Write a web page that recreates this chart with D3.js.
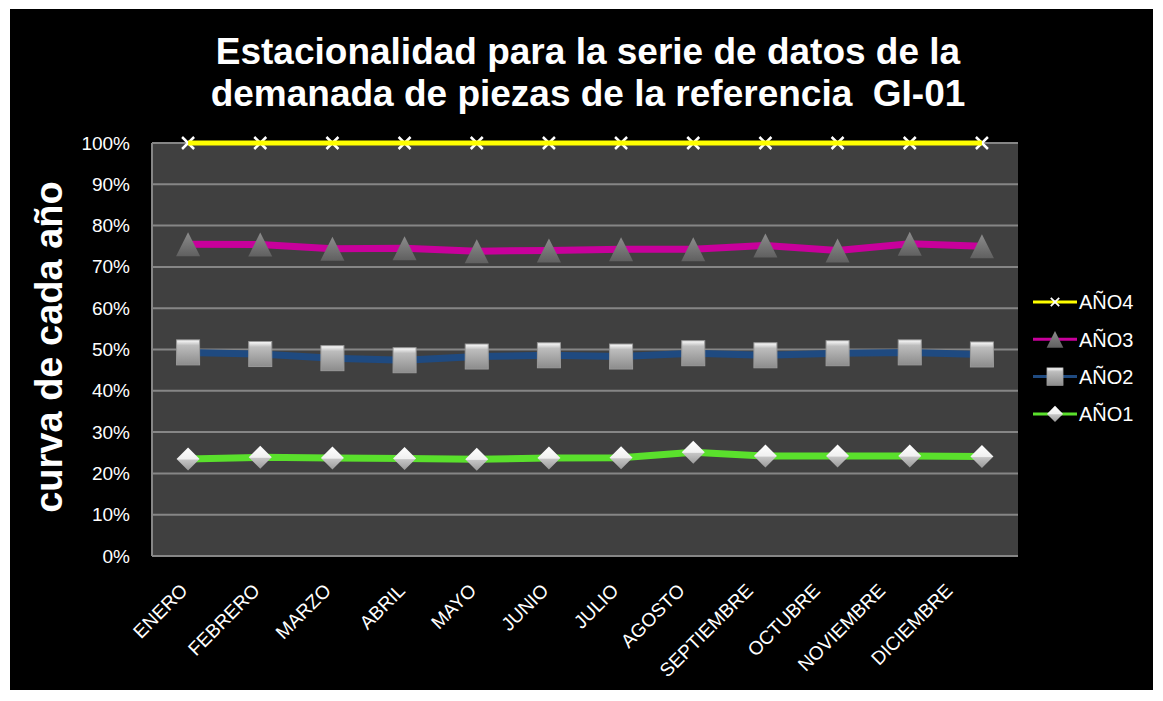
<!DOCTYPE html>
<html>
<head>
<meta charset="utf-8">
<script src="https://cdn.jsdelivr.net/npm/d3@7"></script>
<style>
  body { margin: 0; background: #ffffff; }
  svg text { font-family: "Liberation Sans", Arial, sans-serif; fill: #ffffff; }
</style>
</head>
<body>
<div id="chart"></div>
<script>
// data
const meses = ['ENERO', 'FEBRERO', 'MARZO', 'ABRIL', 'MAYO', 'JUNIO', 'JULIO',
  'AGOSTO', 'SEPTIEMBRE', 'OCTUBRE', 'NOVIEMBRE', 'DICIEMBRE'];
const ano1 = [0.235, 0.239, 0.237, 0.236, 0.234, 0.237, 0.238, 0.251, 0.242, 0.242, 0.242, 0.241];
const ano2 = [0.493, 0.489, 0.479, 0.474, 0.483, 0.486, 0.483, 0.491, 0.486, 0.491, 0.493, 0.488];
const ano3 = [0.755, 0.754, 0.744, 0.745, 0.738, 0.740, 0.743, 0.743, 0.752, 0.740, 0.756, 0.750];
const ano4 = [1, 1, 1, 1, 1, 1, 1, 1, 1, 1, 1, 1];
const yTicks = [0, 0.1, 0.2, 0.3, 0.4, 0.5, 0.6, 0.7, 0.8, 0.9, 1];

const series = [
  { name: 'AÑO4', values: ano4, color: '#ffff00', width: 5, marker: 'x' },
  { name: 'AÑO3', values: ano3, color: '#c8009b', width: 7, marker: 'triangle' },
  { name: 'AÑO2', values: ano2, color: '#1f4a80', width: 7, marker: 'square' },
  { name: 'AÑO1', values: ano1, color: '#5ae02c', width: 7, marker: 'diamond' }
];

const W = 1163, H = 701;
const plot = { left: 152, right: 1018, top: 143, bottom: 556 };

// the rotated month labels drift a little to the left towards the end
const labelDrift = [2, 2, 1, 3, 2, 2, 0, -6, -10, -15, -22, -27];

const svg = d3.select('#chart').append('svg')
  .attr('width', W)
  .attr('height', H);

// gradients for the markers
const defs = svg.append('defs');
function grad(id, stops) {
  const g = defs.append('linearGradient').attr('id', id)
    .attr('x1', 0).attr('y1', 0).attr('x2', 0).attr('y2', 1);
  stops.forEach(s => g.append('stop').attr('offset', s[0]).attr('stop-color', s[1]));
}
grad('gTri', [[0, '#8c8c8c'], [1, '#606060']]);
grad('gSq', [[0, '#ffffff'], [0.22, '#bdbdbd'], [1, '#8c8c8c']]);
grad('gDia', [[0, '#ffffff'], [0.5, '#f0f0f0'], [0.55, '#c4c4c4'], [1, '#9a9a9a']]);

// black chart background
svg.append('rect')
  .attr('x', 10).attr('y', 9)
  .attr('width', 1143).attr('height', 681)
  .attr('fill', '#000000');

// Scales
const xScale = d3.scaleBand()
  .domain(meses)
  .range([plot.left, plot.right]);

const yScale = d3.scaleLinear()
  .domain([0, 1])
  .range([plot.bottom, plot.top]);

const xc = d => xScale(d) + xScale.bandwidth() / 2;

// plot area
svg.append('rect')
  .attr('x', plot.left).attr('y', plot.top)
  .attr('width', plot.right - plot.left).attr('height', plot.bottom - plot.top)
  .attr('fill', '#404040');

// grid lines
svg.append('g')
  .selectAll('line')
  .data(yTicks)
  .enter()
  .append('line')
    .attr('x1', plot.left).attr('x2', plot.right)
    .attr('y1', d => yScale(d)).attr('y2', d => yScale(d))
    .attr('stroke', '#868686')
    .attr('stroke-width', 2);

// y-axis line
svg.append('line')
  .attr('x1', plot.left).attr('x2', plot.left)
  .attr('y1', plot.top).attr('y2', plot.bottom)
  .attr('stroke', '#868686').attr('stroke-width', 2);

// y-axis labels
const yAxis = d3.axisLeft(yScale)
  .tickValues(yTicks)
  .tickFormat(d3.format('.0%'))
  .tickSize(0)
  .tickPadding(22);

const yg = svg.append('g')
  .attr('transform', `translate(${ plot.left }, 0)`)
  .call(yAxis);
yg.select('.domain').remove();
yg.selectAll('text')
  .style('font-size', '19px')
  .attr('fill', '#ffffff');

// x-axis labels (rotated 45deg)
const xAxis = d3.axisBottom(xScale).tickSize(0).tickPadding(0);
const xg = svg.append('g')
  .attr('transform', `translate(0, ${ plot.bottom })`)
  .call(xAxis);
xg.select('.domain').remove();
xg.selectAll('text')
  .style('font-size', '19px')
  .attr('fill', '#ffffff')
  .style('text-anchor', 'end')
  .attr('dy', '0.35em')
  .attr('y', 0)
  .attr('transform', (d, i) => `translate(${ labelDrift[i] - 6 }, 31) rotate(-45)`);

// markers
function drawMarker(sel, type) {
  if (type === 'x') {
    sel.append('path')
      .attr('d', 'M-6,-6L6,6M6,-6L-6,6')
      .attr('stroke', '#ffffff').attr('stroke-width', 2.5).attr('fill', 'none');
  } else if (type === 'triangle') {
    sel.append('path')
      .attr('d', 'M0,-12L12,12L-12,12Z')
      .attr('fill', 'url(#gTri)');
  } else if (type === 'square') {
    sel.append('rect')
      .attr('x', -11.5).attr('y', -12.5).attr('width', 23).attr('height', 25)
      .attr('fill', 'url(#gSq)')
      .attr('stroke', '#9a9a9a').attr('stroke-width', 1);
  } else if (type === 'diamond') {
    sel.append('path')
      .attr('d', 'M0,-11.5L11.5,0L0,11.5L-11.5,0Z')
      .attr('fill', 'url(#gDia)');
  }
}

const line = d3.line()
  .x((d, i) => xc(meses[i]))
  .y(d => yScale(d));

function addMarkers(g, s) {
  g.selectAll('g.m')
    .data(s.values)
    .enter()
    .append('g')
    .attr('class', 'm')
    .attr('transform', (d, i) => `translate(${ xc(meses[i]) }, ${ yScale(d) })`)
    .each(function() { drawMarker(d3.select(this), s.marker); });
}

function addLine(g, s) {
  g.append('path')
    .datum(s.values)
    .attr('d', line)
    .attr('fill', 'none')
    .attr('stroke', s.color)
    .attr('stroke-width', s.width);
}

// draw from AÑO1 upwards so later ones sit on top
series.slice().reverse().forEach(s => {
  const g = svg.append('g');
  if (s.marker === 'x') {
    // the x markers sit under the thick yellow line
    addMarkers(g, s);
    addLine(g, s);
  } else {
    addLine(g, s);
    addMarkers(g, s);
  }
});

// legend
const legend = svg.selectAll('.legend')
  .data(series)
  .enter()
  .append('g')
  .attr('class', 'legend')
  .attr('transform', (d, i) => `translate(1033, ${ 302 + i * 37.3 })`);

legend.append('line')
  .attr('x1', 0).attr('x2', 44)
  .attr('stroke', d => d.color)
  .attr('stroke-width', 3);

legend.each(function(d) {
  const m = d3.select(this).append('g')
    .attr('transform', 'translate(22, 0) scale(0.7)');
  drawMarker(m, d.marker);
});

legend.append('text')
  .attr('x', 46)
  .attr('dy', '0.36em')
  .style('font-size', '20px')
  .text(d => d.name);

// titles
svg.append('text')
  .attr('x', 588)
  .attr('y', 64)
  .style('text-anchor', 'middle')
  .style('font-size', '37px')
  .style('font-weight', 'bold')
  .text('Estacionalidad para la serie de datos de la');

svg.append('text')
  .attr('x', 588)
  .attr('y', 106)
  .style('text-anchor', 'middle')
  .style('font-size', '37px')
  .style('font-weight', 'bold')
  .style('white-space', 'pre')
  .text('demanada de piezas de la referencia  GI-01');

svg.append('text')
  .attr('transform', 'translate(62, 347) rotate(-90)')
  .style('text-anchor', 'middle')
  .style('font-size', '38px')
  .style('font-weight', 'bold')
  .text('curva de cada año');
</script>
</body>
</html>
